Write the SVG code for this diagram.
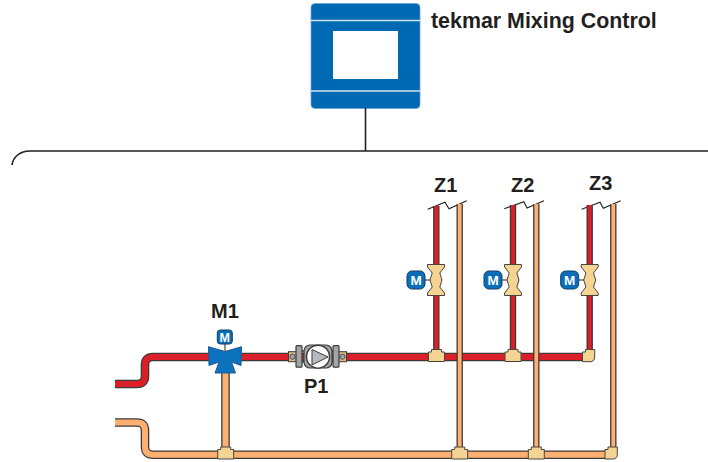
<svg xmlns="http://www.w3.org/2000/svg" width="708" height="462" viewBox="0 0 708 462">
<style>
text{font-family:"Liberation Sans",Arial,sans-serif;font-weight:bold;fill:#231f20}
.l{font-size:20px}
.wire{fill:none;stroke:#231f20;stroke-width:1.6}
.brk{fill:none;stroke:#231f20;stroke-width:1.1}
.po{fill:none;stroke:#3f3a38}
.hot{fill:none;stroke:#da1f28}
.ret{fill:none;stroke:#fdb072}
.big{stroke-width:8.6}
.bigc{stroke-width:6}
.thin{stroke-width:6.4}
.thinc{stroke-width:3.8}
.fit{fill:#f3d493;stroke:#4a4440;stroke-width:1;stroke-linejoin:round}
.mb{fill:#0a6fb8;stroke:#123f66;stroke-width:1}
.mv{fill:#0d72bd;stroke:#1c5a8f;stroke-width:1;stroke-linejoin:round}
.mt{font-size:13.5px;fill:#fff;text-anchor:middle}
.pg{fill:#9fa7ad;stroke:#3f3a38;stroke-width:1.2}
</style>
<defs>
<g id="zv">
<path d="M-12 0H-5" stroke="#231f20" stroke-width="1"/>
<path class="fit" d="M-8.500-15.500H8.500V-13L3.800-7 6 0 3.800 7 8.500 13V15.500H-8.500V13L-3.800 7-6 0-3.800-7-8.500-13Z"/>
<rect class="mb" x="-29" y="-9" width="18" height="18" rx="5"/>
<text class="mt" x="-20" y="5">M</text>
</g>
<path id="tee" class="fit" d="M-8 2.500H-5V0H5V2.500H8V12H-8Z"/>
<g id="bolt">
<rect x="-4" y="-5" width="8" height="10" fill="#d9bd85" stroke="#3f3a38"/>
<circle r="2.600" fill="#9fa7ad" stroke="#3f3a38" stroke-width=".8"/>
</g>
</defs>
<g id="control">
<rect x="311" y="3.500" width="109" height="105" rx="4" fill="#0069b4" stroke="#6aa6d6" stroke-width=".8"/>
<path d="M311 20.500H420M311 91H420" stroke="#cfe3f2" stroke-width="1.500"/>
<rect x="333" y="31" width="65" height="48" fill="#fff"/>
</g>
<text x="431" y="28" font-size="21.400">tekmar Mixing Control</text>
<g id="connectors">
<path class="wire" d="M365.500 108V151"/>
<path class="wire" d="M12 165C13 157 20 151 30 151H708"/>
<path class="brk" d="M427.700 209.300 445 202.300 449 208.700 466.700 200.700M504.300 208.700 524 201.700 527 208 544 200.700M581.700 209.300 600 202.300 603.300 208.300 620.700 200.700"/>
<g id="hot-pipes">
<path class="po thin" d="M436.300 357V206M513 357V205M589.700 357V205"/>
<path class="hot thinc" d="M436.300 357V206M513 357V205M589.700 357V205"/>
<path class="po big" d="M115 384H137Q145 384 145 376V365Q145 357 153 357H588"/>
<path class="hot bigc" d="M115 384H137Q145 384 145 376V365Q145 357 153 357H588"/>
</g>
<g id="return-pipes">
<path class="po big" d="M115 422.500H137Q145 422.500 145 430.500V446.700Q145 454.700 153 454.700H610M225.500 454V372"/>
<path class="ret bigc" d="M115 422.500H137Q145 422.500 145 430.500V446.700Q145 454.700 153 454.700H610M225.500 454V372"/>
<path class="po thin" d="M459.700 452V204M536.300 452V204M613.300 452V204"/>
<path class="ret thinc" d="M459.700 452V204M536.300 452V204M613.300 452V204"/>
</g>
</g>
<g id="tees">
<use href="#tee" x="436.500" y="349.500"/>
<use href="#tee" x="513" y="349.500"/>
<path class="fit" d="M582.500 352H585.500V349.500H594.700V357Q594.700 361.700 590 361.700H582.500Z"/>
<use href="#tee" x="225.700" y="447"/>
<use href="#tee" x="459.700" y="447"/>
<use href="#tee" x="536.300" y="447"/>
<path class="fit" d="M605 449.500H608V447H617.300V454.500Q617.300 459 612.500 459H605Z"/>
</g>
<g id="z1"><use href="#zv" x="436" y="280"/><text class="l" x="434" y="192">Z1</text></g>
<g id="z2"><use href="#zv" x="513" y="280"/><text class="l" x="511" y="192">Z2</text></g>
<g id="z3"><use href="#zv" x="589.700" y="280"/><text class="l" x="589" y="190">Z3</text></g>
<g id="m1">
<path d="M225 344V353" stroke="#231f20"/>
<path class="mv" d="M208.500 346.700 225 351.500 241.500 346.700 241 365.500 231.500 362 235.500 373H215L219 362 209 365.500Z"/>
<rect class="mb" x="217.300" y="330" width="15" height="14" rx="3"/>
<text class="mt" x="224.800" y="342" style="font-size:12.500px">M</text>
<text class="l" x="211" y="318">M1</text>
</g>
<g id="p1">
<use href="#bolt" x="292.500" y="356.700"/>
<use href="#bolt" x="342.500" y="356.700"/>
<rect class="pg" x="296" y="345.700" width="6" height="21.500" rx="1"/>
<rect class="pg" x="333" y="345.700" width="6" height="21.500" rx="1"/>
<rect class="pg" x="304" y="345" width="28" height="23" rx="6"/>
<path d="M302 351H304M302 362H304M332 351H333M332 362H333" stroke="#3f3a38" stroke-width="1.500"/>
<circle cx="318" cy="356.700" r="11.500" fill="#fff" stroke="#3f3a38" stroke-width="1.500"/>
<path d="M312 349.500 328 357 312 365Z" fill="#b5babf" stroke="#3f3a38"/>
<text class="l" x="304" y="393">P1</text>
</g>
</svg>
